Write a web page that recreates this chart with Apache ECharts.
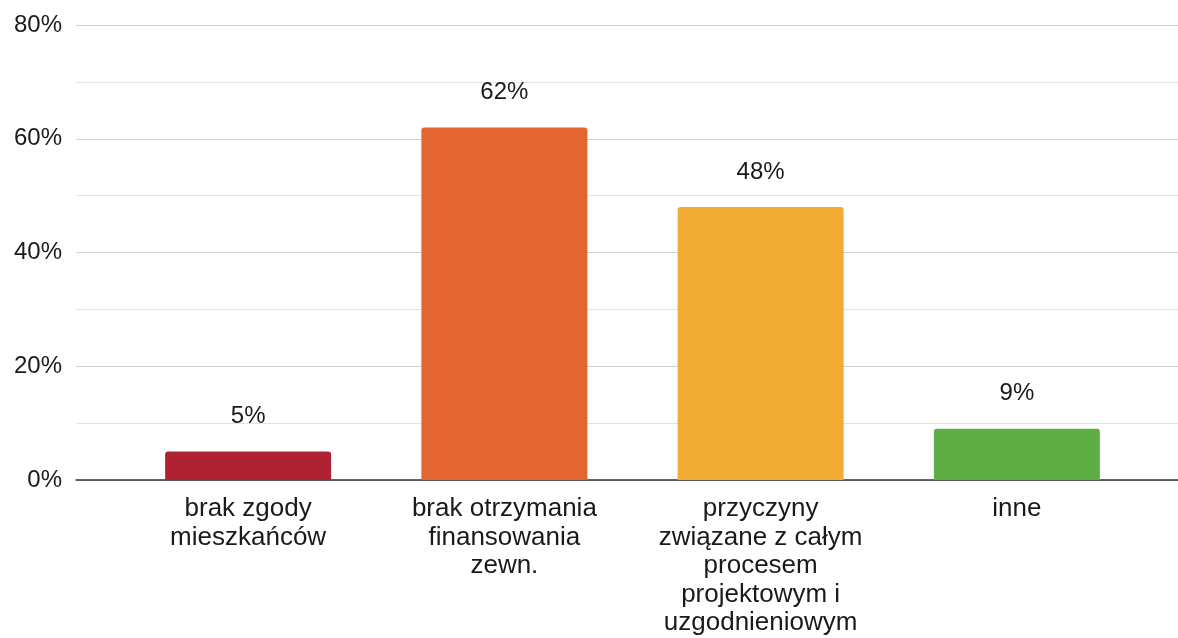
<!DOCTYPE html>
<html>
<head>
<meta charset="utf-8">
<script src="https://cdn.jsdelivr.net/npm/echarts@6/dist/echarts.min.js"></script>
<style>html,body{margin:0;padding:0;background:#fff}#c{width:1178px;height:638px}</style>
</head>
<body>
<div id="c"></div>
<script>
const categories = ['brak zgody\nmieszkańców', 'brak otrzymania\nfinansowania\nzewn.', 'przyczyny\nzwiązane z całym\nprocesem\nprojektowym i\nuzgodnieniowym', 'inne'];
const values = [5, 62, 48, 9];
const barColors = ['#AE2232', '#E36530', '#F0AC33', '#5EAE45'];
const yMin = 0, yMax = 80, yStep = 10, yLabelStep = 20;

const chart = echarts.init(document.getElementById('c'));
const font = '"Liberation Sans", Arial, sans-serif';
chart.setOption({
  animation: false,
  grid: [
    {left: 120, right: 33, top: 25, bottom: 158},
    {left: 76, right: 0, top: 25, bottom: 158}
  ],
  xAxis: [
    {type: 'category', gridIndex: 0, data: categories,
     axisLine: {show: false}, axisTick: {show: false},
     axisLabel: {interval: 0, color: '#1a1a1a', fontSize: 26, lineHeight: 28.5, margin: 15, fontFamily: font}},
    {type: 'value', gridIndex: 1, min: 0, max: 1, show: true,
     axisLine: {show: true, onZero: true, lineStyle: {color: '#333', width: 1.5}},
     axisTick: {show: false}, axisLabel: {show: false}, splitLine: {show: false}}
  ],
  yAxis: [
    {type: 'value', gridIndex: 0, min: yMin, max: yMax, interval: yStep, show: false, splitLine: {show: false}},
    {type: 'value', gridIndex: 1, min: yMin, max: yMax, interval: yStep,
     axisLine: {show: false}, axisTick: {show: false},
     axisLabel: {color: '#1a1a1a', fontSize: 24, margin: 14, fontFamily: font,
       formatter: v => (v % yLabelStep === 0 ? v + '%' : '')},
     splitLine: {show: true, lineStyle: {color: ['#cfcfcf', '#e2e2e2'], width: 1.2}}}
  ],
  series: [{
    type: 'bar', xAxisIndex: 0, yAxisIndex: 0,
    data: values.map((v, i) => ({value: v, itemStyle: {color: barColors[i]}})),
    barWidth: 166,
    itemStyle: {borderRadius: [3, 3, 0, 0]},
    label: {show: true, position: 'top', distance: 23, formatter: '{c}%', color: '#1a1a1a', fontSize: 24, fontFamily: font}
  }]
});
</script>
</body>
</html>
